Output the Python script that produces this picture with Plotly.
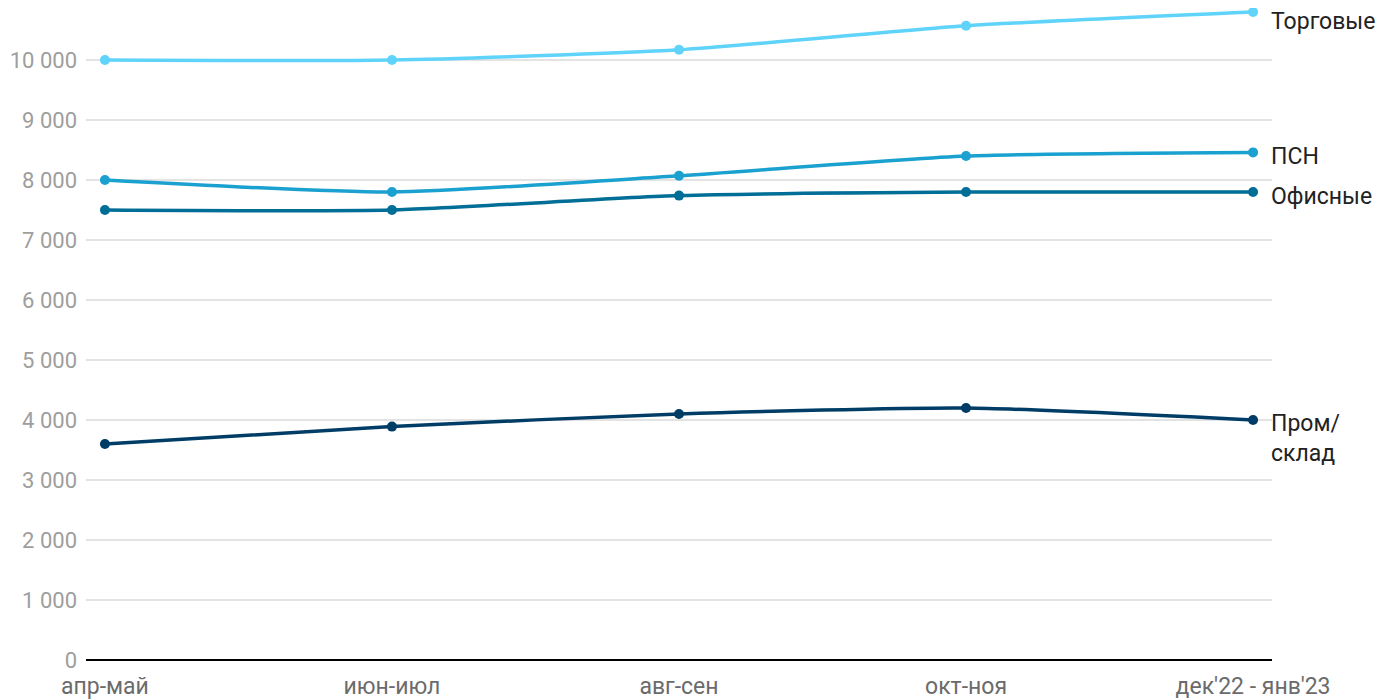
import plotly.graph_objects as go

categories = ["апр-май", "июн-июл", "авг-сен", "окт-ноя", "дек'22 - янв'23"]
torgovye = [10000, 10000, 10170, 10570, 10800]
psn = [8000, 7800, 8070, 8400, 8460]
ofisnye = [7500, 7500, 7740, 7800, 7800]
prom = [3600, 3890, 4100, 4200, 4000]

series = [
    ("Торговые", torgovye, "#5fd3f9", 9),
    ("ПСН", psn, "#1ba1cf", 4),
    ("Офисные", ofisnye, "#006e96", 4),
    ("Пром/<br>склад", prom, "#003d66", 18),
]

FONT = "Roboto"
fig = go.Figure()
for name, vals, color, yshift in series:
    fig.add_trace(go.Scatter(
        x=list(range(len(categories))), y=vals, mode="lines+markers",
        line=dict(color=color, width=3.5, shape="spline", smoothing=0.6),
        marker=dict(color=color, size=10),
        cliponaxis=False, showlegend=False, hoverinfo="skip",
    ))
    fig.add_annotation(
        x=len(categories) - 1, y=vals[-1], text=name, showarrow=False,
        xanchor="left", yanchor="middle", xshift=16, yshift=-yshift,
        align="left", font=dict(family=FONT, size=23, color="#222222"),
    )

fig.update_layout(
    width=1400, height=700,
    margin=dict(l=78, r=136, t=0, b=48),
    plot_bgcolor="white", paper_bgcolor="white",
    separators=", ",
    font=dict(family=FONT),
    xaxis=dict(
        tickmode="array", tickvals=list(range(len(categories))), ticktext=categories,
        range=[-0.066, 4.066], showgrid=False, zeroline=False,
        showline=False, ticks="", ticklabelstandoff=10, automargin=False,
        tickfont=dict(family=FONT, size=23, color="#6b6b6b"),
    ),
    yaxis=dict(
        range=[0, 10866.67], dtick=1000, tick0=0, tickformat=",d",
        showgrid=True, gridcolor="#e3e3e3", gridwidth=1.5,
        zeroline=True, zerolinecolor="#000000", zerolinewidth=2,
        ticks="", ticklabelstandoff=8, automargin=False,
        tickfont=dict(family=FONT, size=22, color="#9e9e9e"),
    ),
)

fig.write_html("out.html")
